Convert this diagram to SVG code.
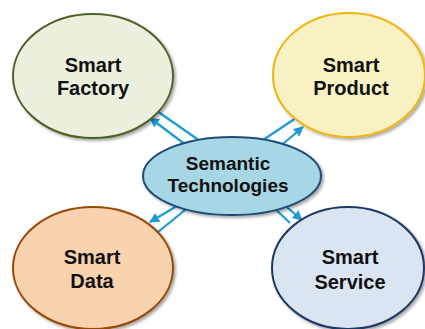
<svg xmlns="http://www.w3.org/2000/svg" width="425" height="329" viewBox="0 0 425 329">
<style>
.lbl{font-family:"Liberation Sans",Arial,sans-serif;font-weight:bold;font-size:20px;fill:#111;text-anchor:middle}
.sem{font-size:19px}
.conn line{stroke:#1b9bd7;stroke-width:2.2;fill:none}
.node ellipse{stroke-width:2}
</style>
<defs>
<filter id="sh" x="-10%" y="-10%" width="130%" height="130%">
<feGaussianBlur in="SourceAlpha" stdDeviation="1.5"/>
<feOffset dx="2" dy="2" result="b"/>
<feComponentTransfer><feFuncA type="linear" slope="0.35"/></feComponentTransfer>
<feMerge><feMergeNode/><feMergeNode in="SourceGraphic"/></feMerge>
</filter>
<marker id="ah" viewBox="0 0 10 10" refX="9" refY="5" markerWidth="10" markerHeight="10" markerUnits="userSpaceOnUse" orient="auto">
<path d="M0,0 L10,5 L0,10 z" fill="#1b9bd7"/>
</marker>
</defs>
<rect width="425" height="329" fill="#fff"/>
<g id="connectors" class="conn">
<line x1="157" y1="111" x2="200" y2="141"/>
<line x1="186" y1="145" x2="150" y2="118" marker-end="url(#ah)"/>
<line x1="263" y1="140" x2="296" y2="118"/>
<line x1="278" y1="148" x2="303" y2="127" marker-end="url(#ah)"/>
<line x1="182" y1="203" x2="150" y2="222" marker-end="url(#ah)"/>
<line x1="158" y1="232" x2="190" y2="206"/>
<line x1="270" y1="204" x2="290" y2="223"/>
<line x1="282" y1="203" x2="302" y2="220" marker-end="url(#ah)"/>
</g>
<g id="smart-factory" class="node">
<ellipse cx="93" cy="76" rx="80" ry="62" fill="#ebf1de" stroke="#4f6228" filter="url(#sh)"/>
<text class="lbl" x="93" y="72">Smart</text>
<text class="lbl" x="93" y="95">Factory</text>
</g>
<g id="smart-product" class="node">
<ellipse cx="349" cy="75" rx="76" ry="62" fill="#f7f1c4" stroke="#f2b50f" filter="url(#sh)"/>
<text class="lbl" x="351" y="72">Smart</text>
<text class="lbl" x="351" y="95">Product</text>
</g>
<g id="smart-data" class="node">
<ellipse cx="93" cy="268" rx="80" ry="61" fill="#f9d2b0" stroke="#974806" filter="url(#sh)"/>
<text class="lbl" x="92" y="264">Smart</text>
<text class="lbl" x="92" y="288">Data</text>
</g>
<g id="smart-service" class="node">
<ellipse cx="348" cy="268" rx="76" ry="61" fill="#dbe5f1" stroke="#1f3864" filter="url(#sh)"/>
<text class="lbl" x="350" y="264">Smart</text>
<text class="lbl" x="350" y="289">Service</text>
</g>
<g id="semantic-technologies" class="node">
<ellipse cx="232" cy="176" rx="89" ry="39" fill="#a7d6e5" stroke="#1f4e79" filter="url(#sh)"/>
<text class="lbl sem" x="228" y="170">Semantic</text>
<text class="lbl sem" x="228" y="192">Technologies</text>
</g>
</svg>
